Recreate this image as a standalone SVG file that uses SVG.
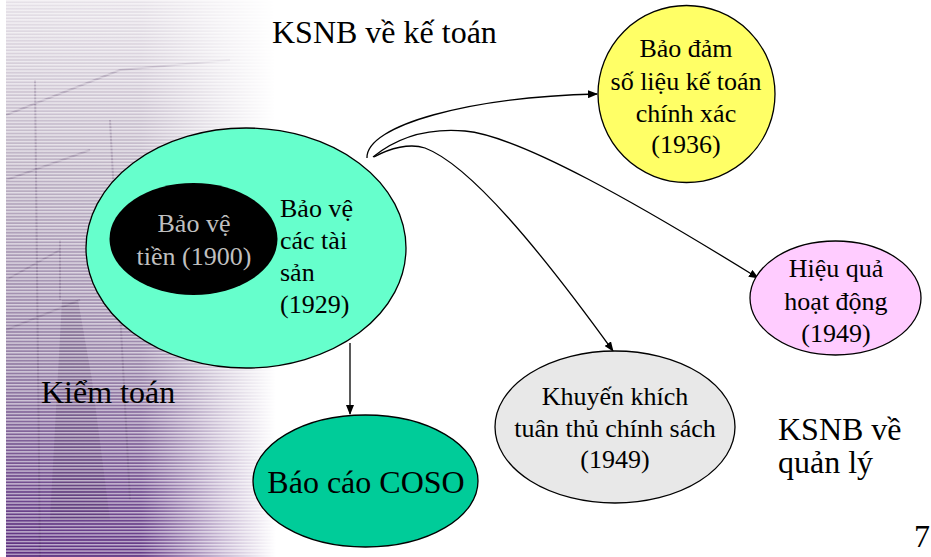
<svg xmlns="http://www.w3.org/2000/svg" width="931" height="557" viewBox="0 0 931 557">
<defs>
<style>
text{fill:#000;}
.t26{font-size:26px;}
.t31{font-size:32px;}
.mid{text-anchor:middle;}
.node{stroke:#000;stroke-width:1.3;}
.conn{fill:none;stroke:#000;stroke-width:1.3;}
</style>
<linearGradient id="bgV" x1="0" y1="0" x2="0" y2="1">
<stop offset="0" stop-color="#E6E1E8"/>
<stop offset="0.3" stop-color="#BDB2C4"/>
<stop offset="0.65" stop-color="#9580A6"/>
<stop offset="1" stop-color="#5C2E80"/>
</linearGradient>
<linearGradient id="fadeH" x1="0" y1="0" x2="1" y2="0">
<stop offset="0" stop-color="#fff" stop-opacity="1"/>
<stop offset="0.5" stop-color="#fff" stop-opacity="0.95"/>
<stop offset="0.8" stop-color="#fff" stop-opacity="0.35"/>
<stop offset="1" stop-color="#fff" stop-opacity="0"/>
</linearGradient>
<mask id="fadeMask" maskUnits="userSpaceOnUse" x="0" y="0" width="300" height="557">
<rect x="6" y="0" width="270" height="557" fill="url(#fadeH)"/>
</mask>
<pattern id="stripes" width="4" height="3.2" patternUnits="userSpaceOnUse">
<rect x="0" y="0" width="4" height="1.4" fill="#fff" opacity="0.6"/>
</pattern>
<marker id="arr" markerWidth="10" markerHeight="8" refX="9" refY="4" orient="auto" markerUnits="userSpaceOnUse">
<path d="M0,0 L10,4 L0,8 Z" fill="#000"/>
</marker>
</defs>
<rect width="931" height="557" fill="#fff"/>
<g id="background" mask="url(#fadeMask)">
<rect x="6" y="0" width="270" height="557" fill="url(#bgV)"/>
<g fill="none" stroke="#3A1F4E" stroke-opacity="0.22" stroke-width="2">
<path d="M6,115 L120,70 L230,60"/>
<path d="M35,80 L40,557"/>
<path d="M6,180 L90,150"/>
<path d="M6,280 L60,250"/>
<path d="M60,240 L60,300"/>
<path d="M6,330 L80,300"/>
<path d="M110,120 L130,500"/>
</g>
<path d="M62,300 L78,300 L92,380 L110,520 L50,520 Z" fill="#3A1F4E" opacity="0.22"/>
<rect x="6" y="0" width="270" height="557" fill="url(#stripes)"/>
</g>
<g id="connectors">
<path class="conn" d="M367,158 C366,125 470,97 597,94" marker-end="url(#arr)"/>
<path class="conn" d="M373,157 C400,135 430,128 465,131 C520,136 640,205 758,278" marker-end="url(#arr)"/>
<path class="conn" d="M374,157 C390,148 410,143 425,148 C470,165 540,250 613,351" marker-end="url(#arr)"/>
<path class="conn" d="M350,343 L350,414" marker-end="url(#arr)"/>
</g>
<g font-family="'Liberation Serif', 'DejaVu Serif', serif">
<g id="title-accounting"><text class="t31" x="272" y="43">KSNB về kế toán</text></g>
<g id="node-assets">
<ellipse class="node" cx="246" cy="248" rx="160" ry="120" fill="#66FFCC"/>
<text class="t26" x="280" y="217">Bảo vệ</text>
<text class="t26" x="280" y="249">các tài</text>
<text class="t26" x="280" y="281">sản</text>
<text class="t26" x="280" y="313">(1929)</text>
</g>
<g id="node-cash">
<ellipse cx="193.5" cy="239" rx="84" ry="56" fill="#000"/>
<text class="t26 mid" x="194" y="232" style="fill:#BFBFBF">Bảo vệ</text>
<text class="t26 mid" x="194" y="265" style="fill:#BFBFBF">tiền (1900)</text>
</g>
<g id="node-accounting">
<ellipse class="node" cx="686.5" cy="94" rx="88.5" ry="88.5" fill="#FFFF66"/>
<text class="t26 mid" x="686" y="57">Bảo đảm</text>
<text class="t26 mid" x="686" y="90">số liệu kế toán</text>
<text class="t26 mid" x="686" y="122">chính xác</text>
<text class="t26 mid" x="686" y="153">(1936)</text>
</g>
<g id="node-efficiency">
<ellipse class="node" cx="835.5" cy="298" rx="85.5" ry="57" fill="#FFCCFF"/>
<text class="t26 mid" x="836" y="277">Hiệu quả</text>
<text class="t26 mid" x="836" y="310">hoạt động</text>
<text class="t26 mid" x="836" y="342">(1949)</text>
</g>
<g id="node-compliance">
<ellipse class="node" cx="615" cy="427" rx="120" ry="76" fill="#E8E8E8"/>
<text class="t26 mid" x="615" y="405">Khuyến khích</text>
<text class="t26 mid" x="615" y="437">tuân thủ chính sách</text>
<text class="t26 mid" x="615" y="468">(1949)</text>
</g>
<g id="node-coso">
<ellipse class="node" cx="365.5" cy="481" rx="112.5" ry="66" fill="#00CC99"/>
<text class="t31 mid" x="366" y="493">Báo cáo COSO</text>
</g>
<g id="label-audit"><text class="t31" x="41" y="403">Kiểm toán</text></g>
<g id="label-management">
<text class="t31" x="778" y="440">KSNB về</text>
<text class="t31" x="778" y="473">quản lý</text>
</g>
<g id="page-number"><text class="t31" x="914" y="547">7</text></g>
</g>
</svg>
